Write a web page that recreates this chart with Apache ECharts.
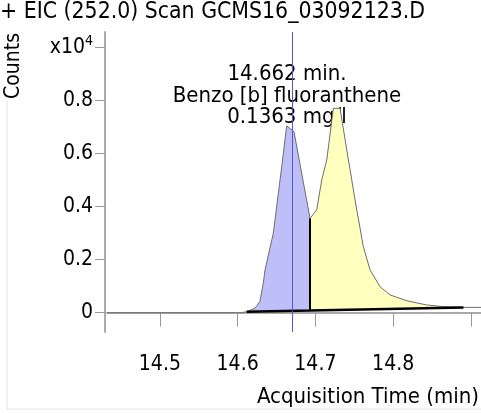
<!DOCTYPE html>
<html>
<head>
<meta charset="utf-8">
<script src="https://cdn.jsdelivr.net/npm/echarts@6/dist/echarts.min.js"></script>
<style>
  html, body { margin: 0; padding: 0; background: #fff; }
  #chart { width: 481px; height: 413px; }
</style>
</head>
<body>
<div id="chart"></div>
<script>
// retention time (min) and counts (x10^4) of the EIC trace
var rt = [14.432, 14.605, 14.6116, 14.6223, 14.6287, 14.6330, 14.6352, 14.6459, 14.6567, 14.6631,
  14.6725, 14.6931, 14.7017, 14.7082, 14.7146, 14.7231, 14.7317, 14.7404, 14.7468, 14.7510,
  14.7617, 14.7704, 14.7832, 14.7961, 14.8176, 14.8434, 14.8647, 14.8905, 14.913];
var counts = [0, 0, 0.004, 0.017, 0.042, 0.111, 0.161, 0.300, 0.551, 0.705,
  0.683, 0.356, 0.388, 0.501, 0.576, 0.771, 0.771, 0.614, 0.501, 0.425,
  0.249, 0.161, 0.098, 0.067, 0.045, 0.029, 0.023, 0.020, 0.020];
// integration baseline: start, split, end
var baseRt = [14.6116, 14.6931, 14.8905];
var baseCounts = [0.004, 0.008, 0.020];
// peak ranges as indexes into rt (start, end)
var peakStart = [2, 11];
var peakEnd = [11, 27];
var peakColors = ['#bebef9', '#ffffbe'];
var markerRt = 14.673;
var yTicks = [0, 0.2, 0.4, 0.6, 0.8, 1.0];
var xTicks = [14.5, 14.6, 14.7, 14.8, 14.9];
var xLabels = [14.5, 14.6, 14.7, 14.8];
var annotation = ['14.662 min.', 'Benzo [b] fluoranthene', '0.1363 mg/l'];

var FONT = '"DejaVu Sans Condensed", "DejaVu Sans", sans-serif';

var trace = rt.map(function (t, i) { return [t, counts[i]]; });
var baseline = baseRt.map(function (t, i) { return [t, baseCounts[i]]; });
var splitLine = [[baseRt[1], baseCounts[1]], [rt[peakEnd[0]], counts[peakEnd[0]]]];

var chart = echarts.init(document.getElementById('chart'));
chart.setOption({
  animation: false,
  grid: { left: 107, right: 0, top: 32, bottom: 81 },
  xAxis: {
    type: 'value',
    min: 14.432,
    max: 14.913,
    offset: 3,
    splitLine: { show: false },
    axisLine: { lineStyle: { color: '#aaaaaa', width: 2 } },
    axisTick: { customValues: xTicks, length: 14, lineStyle: { color: '#999', width: 1 } },
    axisLabel: {
      customValues: xLabels, margin: 19, color: '#000', fontSize: 21, fontFamily: FONT,
      formatter: function (v) { return v.toFixed(1); }
    }
  },
  yAxis: {
    type: 'value',
    min: -0.0728,
    max: 1.059,
    offset: 2,
    splitLine: { show: false },
    axisLine: { show: true, lineStyle: { color: '#aaaaaa', width: 2 } },
    axisTick: { show: true, customValues: yTicks, length: 10, lineStyle: { color: '#999', width: 1 } },
    axisLabel: {
      customValues: yTicks, margin: 12, color: '#000', fontSize: 21, fontFamily: FONT,
      formatter: function (v) {
        if (v > 0.95) return 'x10{s|4}';
        return v === 0 ? '0' : v.toFixed(1);
      },
      rich: { s: { fontSize: 14, fontFamily: FONT, color: '#000', padding: [0, 0, 12, 0] } }
    }
  },
  graphic: [
    { type: 'text', left: 0, top: 1, style: { text: '+ EIC (252.0) Scan GCMS16_03092123.D', font: '22.8px ' + FONT, fill: '#000' } },
    { type: 'text', x: 14, y: 66, rotation: Math.PI / 2, style: { text: 'Counts', font: '21px ' + FONT, fill: '#000', align: 'center', verticalAlign: 'middle' } },
    { type: 'text', x: 287, y: 96, style: { text: annotation.join('\n'), font: '22px ' + FONT, fill: '#000', align: 'center', verticalAlign: 'middle', lineHeight: 21.5 } },
    { type: 'text', x: 479, y: 397, style: { text: 'Acquisition Time (min)', font: '22px ' + FONT, fill: '#000', align: 'right', verticalAlign: 'middle' } },
    { type: 'line', shape: { x1: 7, y1: 100, x2: 7, y2: 409 }, style: { stroke: '#e2e2e2', lineWidth: 1 } },
    { type: 'line', shape: { x1: 7, y1: 409, x2: 481, y2: 409 }, style: { stroke: '#e2e2e2', lineWidth: 1 } }
  ],
  series: [
    {
      type: 'custom',
      z: 1,
      data: peakStart.map(function (s, i) { return [rt[s], rt[peakEnd[i]]]; }),
      encode: { x: [0, 1] },
      renderItem: function (params, api) {
        var i = params.dataIndex;
        var pts = [];
        for (var k = peakStart[i]; k <= peakEnd[i]; k++) pts.push(api.coord([rt[k], counts[k]]));
        pts.push(api.coord(baseline[i + 1]));
        pts.push(api.coord(baseline[i]));
        return { type: 'polygon', shape: { points: pts }, style: { fill: peakColors[i], stroke: null } };
      }
    },
    {
      type: 'line', z: 2, data: trace, symbol: 'none',
      lineStyle: { color: '#6e6e6e', width: 1 }
    },
    {
      type: 'line', z: 3, data: baseline, symbol: 'none',
      lineStyle: { color: '#000', width: 2.5 }
    },
    {
      type: 'line', z: 3, data: splitLine, symbol: 'none',
      lineStyle: { color: '#000', width: 2 },
      markLine: {
        silent: true, symbol: 'none', label: { show: false },
        lineStyle: { color: '#5555d0', width: 1, type: 'solid' },
        data: [{ xAxis: markerRt }]
      }
    }
  ]
});
</script>
</body>
</html>
